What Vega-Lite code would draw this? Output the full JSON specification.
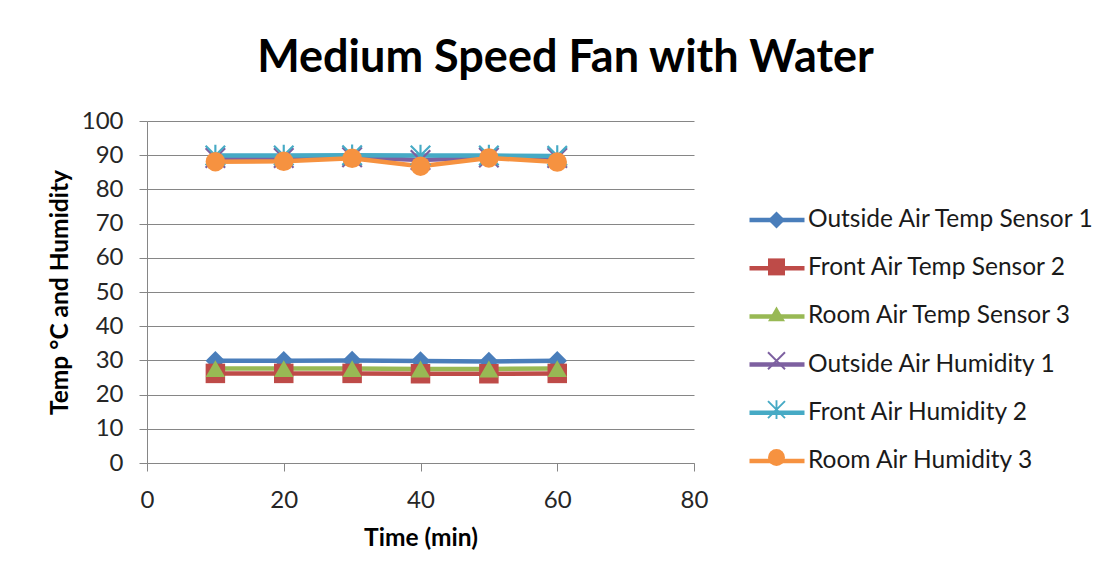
{
  "$schema": "https://vega.github.io/schema/vega-lite/v6.json",
  "width": 547,
  "height": 342,
  "autosize": {"type": "none"},
  "padding": {"left": 147, "top": 121, "right": 422, "bottom": 120},
  "background": "white",
  "title": {
    "text": "Medium Speed Fan with Water",
    "font": "Lato",
    "fontSize": 45,
    "fontWeight": "bold",
    "color": "#000000",
    "anchor": "middle",
    "frame": "group",
    "dx": 145,
    "dy": 40,
    "baseline": "alphabetic",
    "offset": 32
  },
  "config": {
    "view": {"stroke": null},
    "axis": {
      "gridColor": "#868686",
      "domainColor": "#868686",
      "tickColor": "#868686",
      "labelFont": "Lato",
      "labelFontSize": 24,
      "labelColor": "#262626",
      "titleFont": "Lato",
      "titleFontSize": 24.5,
      "titleFontWeight": "bold",
      "titleColor": "#000000",
      "tickSize": 8
    },
    "legend": {
      "labelFont": "Lato",
      "labelFontSize": 24.5,
      "labelColor": "#1a1a1a",
      "padding": 0,
      "title": null,
      "labelLimit": 400
    }
  },
  "data": {
    "values": [
      {"t": 10, "series": "Outside Air Temp Sensor 1", "v": 29.9},
      {"t": 20, "series": "Outside Air Temp Sensor 1", "v": 29.9},
      {"t": 30, "series": "Outside Air Temp Sensor 1", "v": 30.0},
      {"t": 40, "series": "Outside Air Temp Sensor 1", "v": 29.8},
      {"t": 50, "series": "Outside Air Temp Sensor 1", "v": 29.7},
      {"t": 60, "series": "Outside Air Temp Sensor 1", "v": 29.9},
      {"t": 10, "series": "Front Air Temp Sensor 2", "v": 26.2},
      {"t": 20, "series": "Front Air Temp Sensor 2", "v": 26.2},
      {"t": 30, "series": "Front Air Temp Sensor 2", "v": 26.2},
      {"t": 40, "series": "Front Air Temp Sensor 2", "v": 26.1},
      {"t": 50, "series": "Front Air Temp Sensor 2", "v": 26.1},
      {"t": 60, "series": "Front Air Temp Sensor 2", "v": 26.2},
      {"t": 10, "series": "Room Air Temp Sensor 3", "v": 27.6},
      {"t": 20, "series": "Room Air Temp Sensor 3", "v": 27.6},
      {"t": 30, "series": "Room Air Temp Sensor 3", "v": 27.6},
      {"t": 40, "series": "Room Air Temp Sensor 3", "v": 27.5},
      {"t": 50, "series": "Room Air Temp Sensor 3", "v": 27.5},
      {"t": 60, "series": "Room Air Temp Sensor 3", "v": 27.6},
      {"t": 10, "series": "Outside Air Humidity 1", "v": 89.2},
      {"t": 20, "series": "Outside Air Humidity 1", "v": 89.2},
      {"t": 30, "series": "Outside Air Humidity 1", "v": 89.4},
      {"t": 40, "series": "Outside Air Humidity 1", "v": 88.6},
      {"t": 50, "series": "Outside Air Humidity 1", "v": 89.3},
      {"t": 60, "series": "Outside Air Humidity 1", "v": 89.2},
      {"t": 10, "series": "Front Air Humidity 2", "v": 89.9},
      {"t": 20, "series": "Front Air Humidity 2", "v": 89.9},
      {"t": 30, "series": "Front Air Humidity 2", "v": 90.0},
      {"t": 40, "series": "Front Air Humidity 2", "v": 89.9},
      {"t": 50, "series": "Front Air Humidity 2", "v": 89.9},
      {"t": 60, "series": "Front Air Humidity 2", "v": 89.8},
      {"t": 10, "series": "Room Air Humidity 3", "v": 88.1},
      {"t": 20, "series": "Room Air Humidity 3", "v": 88.2},
      {"t": 30, "series": "Room Air Humidity 3", "v": 89.1},
      {"t": 40, "series": "Room Air Humidity 3", "v": 86.8},
      {"t": 50, "series": "Room Air Humidity 3", "v": 89.2},
      {"t": 60, "series": "Room Air Humidity 3", "v": 88.0}
    ]
  },
  "encoding": {
    "x": {
      "field": "t",
      "type": "quantitative",
      "scale": {"domain": [0, 80], "nice": false},
      "axis": {
        "values": [0, 20, 40, 60, 80],
        "grid": false,
        "labelFlush": false,
        "labelOverlap": false,
        "labelPadding": 17,
        "title": "Time (min)",
        "titleY": 75,
        "titleBaseline": "middle"
      }
    },
    "y": {
      "field": "v",
      "type": "quantitative",
      "scale": {"domain": [0, 100], "nice": false},
      "axis": {
        "values": [0, 10, 20, 30, 40, 50, 60, 70, 80, 90, 100],
        "grid": true,
        "labelPadding": 16,
        "labelOverlap": false,
        "title": "Temp °C and Humidity",
        "titleX": -87,
        "titleY": 171,
        "titleBaseline": "middle"
      }
    }
  },
  "layer": [
    {
      "mark": {"type": "line", "strokeWidth": 4.5},
      "encoding": {
        "stroke": {
          "field": "series",
          "type": "nominal",
          "sort": ["Outside Air Temp Sensor 1", "Front Air Temp Sensor 2", "Room Air Temp Sensor 3", "Outside Air Humidity 1", "Front Air Humidity 2", "Room Air Humidity 3"],
          "scale": {
            "range": ["#4A7EBB", "#BE4B48", "#98B954", "#7D60A0", "#46AAC5", "#F69240"]
          },
          "legend": {
            "orient": "none",
            "legendX": 600,
            "legendY": 69,
            "rowPadding": 6.2,
            "symbolType": "stroke",
            "symbolSize": 3025,
            "symbolStrokeWidth": 4.5,
            "labelOffset": 1
          }
        }
      }
    },
    {
      "mark": {"type": "point", "filled": true, "opacity": 1, "strokeWidth": 0, "size": 380},
      "encoding": {
        "fill": {
          "field": "series",
          "type": "nominal",
          "scale": {
            "domain": ["Outside Air Temp Sensor 1", "Front Air Temp Sensor 2", "Room Air Temp Sensor 3", "Outside Air Humidity 1", "Front Air Humidity 2", "Room Air Humidity 3"],
            "range": ["#4A7EBB", "#BE4B48", "#98B954", "#7D60A0", "#46AAC5", "#F69240"]
          },
          "legend": {
            "orient": "none",
            "legendX": 621,
            "legendY": 90.5,
            "rowPadding": 29.9,
            "symbolSize": 289,
            "symbolStrokeWidth": 0,
            "symbolOpacity": 1,
            "labelFontSize": 1,
            "labelExpr": "''",
            "labelColor": "transparent"
          }
        },
        "shape": {
          "field": "series",
          "type": "nominal",
          "scale": {
            "domain": ["Outside Air Temp Sensor 1", "Front Air Temp Sensor 2", "Room Air Temp Sensor 3", "Outside Air Humidity 1", "Front Air Humidity 2", "Room Air Humidity 3"],
            "range": [
            "diamond",
            "square",
            "triangle-up",
            "M-0.92,-1.08L1.08,0.92L0.92,1.08L-1.08,-0.92ZM-0.92,1.08L-1.08,0.92L0.92,-1.08L1.08,-0.92Z",
            "M-0.92,-1.08L1.08,0.92L0.92,1.08L-1.08,-0.92ZM-0.92,1.08L-1.08,0.92L0.92,-1.08L1.08,-0.92ZM-0.11,-1.1L0.11,-1.1L0.11,1.1L-0.11,1.1Z",
            "circle"
          ]},
          "legend": {
            "orient": "none",
            "legendX": 621,
            "legendY": 90.5,
            "rowPadding": 29.9,
            "symbolSize": 289,
            "symbolStrokeWidth": 0,
            "symbolOpacity": 1,
            "labelFontSize": 1,
            "labelExpr": "''",
            "labelColor": "transparent"
          }
        }
      }
    }
  ]
}
